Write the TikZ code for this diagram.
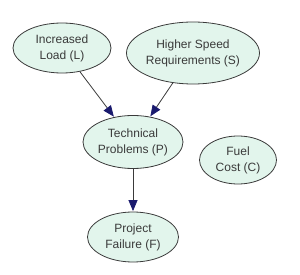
\documentclass[tikz,border=0pt]{standalone}
\usepackage{fontspec}
\setmainfont{Liberation Sans}
\usetikzlibrary{shapes.geometric,arrows.meta}
\definecolor{nodefill}{HTML}{E2F5EC}
\definecolor{nodeline}{HTML}{3A3A3A}
\definecolor{tipcol}{HTML}{1A1A6E}
\definecolor{textcol}{HTML}{3A3A3A}
\tikzset{
  var/.style={ellipse, draw=nodeline, fill=nodefill, line width=0.8pt, inner sep=0pt,
    text=textcol, font=\fontsize{12}{16}\selectfont, align=center},
  link/.style={draw=nodeline, line width=0.8pt,
    -{Triangle[length=11pt,width=9pt,fill=tipcol,color=tipcol]}, shorten >=0.5pt}
}
\begin{document}
\begin{tikzpicture}[x=1pt,y=-1pt]
\useasboundingbox (0,0) rectangle (300,275);
\node[var, minimum width=98pt, minimum height=50pt] (L) at (62,48) {Increased\\Load (L)};
\node[var, minimum width=128pt, minimum height=62pt] (S) at (193,53) {Higher Speed\\Requirements (S)};
\node[var, minimum width=100pt, minimum height=53pt] (P) at (133,142) {Technical\\Problems (P)};
\node[var, minimum width=77pt, minimum height=48pt] (C) at (238,160) {Fuel\\Cost (C)};
\node[var, minimum width=91pt, minimum height=50pt] (F) at (133,237) {Project\\Failure (F)};
\draw[link] (L) -- (P);
\draw[link] (S) -- (P);
\draw[link] (P) -- (F);
\end{tikzpicture}
\end{document}
